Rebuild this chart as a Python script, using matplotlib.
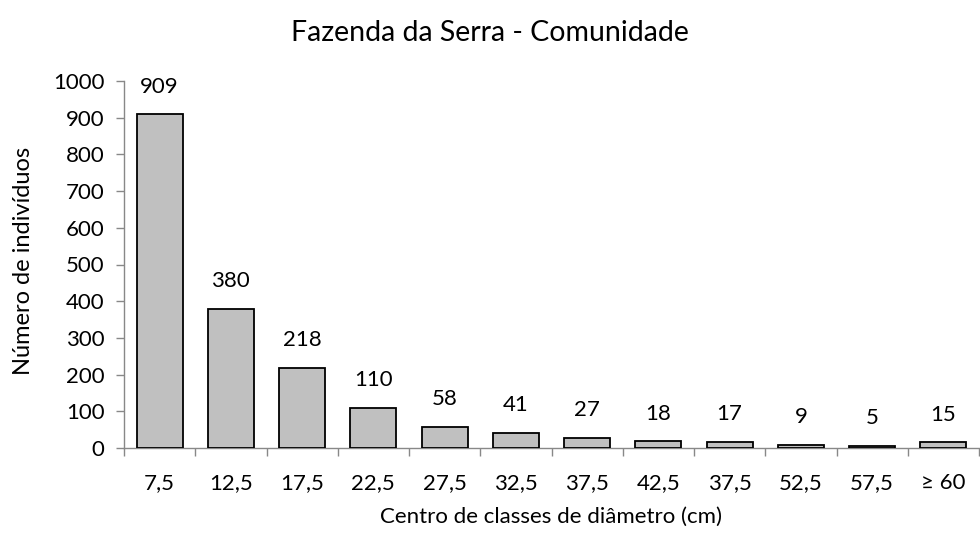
import matplotlib
matplotlib.use("Agg")
import matplotlib.pyplot as plt

categories = ["7,5", "12,5", "17,5", "22,5", "27,5", "32,5", "37,5", "42,5", "37,5", "52,5", "57,5", "≥ 60"]
values = [909, 380, 218, 110, 58, 41, 27, 18, 17, 9, 5, 15]
yticks = [0, 100, 200, 300, 400, 500, 600, 700, 800, 900, 1000]

plt.rcParams['font.family'] = ['Lato', 'DejaVu Sans']
W, H = 980, 536
fig = plt.figure(figsize=(W/100, H/100), dpi=100)
ax = fig.add_axes([124/W, 1-448/H, (979-124)/W, (448-81)/H])

x = list(range(len(categories)))
ax.bar(x, values, width=0.645, color="#c0c0c0", edgecolor="black", linewidth=1.3, zorder=3)
for xi, v in zip(x, values):
    ax.annotate(str(v), (xi, v), xytext=(0, 20), textcoords="offset points",
                ha="center", va="center", fontsize=16)

ax.set_xlim(-0.5, len(categories)-0.5)
ax.set_ylim(0, 1000)
ax.set_yticks(yticks)
ax.set_yticklabels([str(t) for t in yticks], fontsize=16)
ax.set_xticks(x)
ax.set_xticklabels(categories, fontsize=16)
ax.set_xticks([i+0.5 for i in range(-1, len(categories))], minor=True)
ax.tick_params(axis='x', which='major', length=0, pad=18)
ax.tick_params(axis='x', which='minor', length=6, color="#888888", width=1)
ax.tick_params(axis='y', length=6, color="#888888", width=1, pad=8)
for s in ['top', 'right']:
    ax.spines[s].set_visible(False)
for s in ['left', 'bottom']:
    ax.spines[s].set_color("#888888")
    ax.spines[s].set_linewidth(1)

fig.text(490/W, 1-33/H, "Fazenda da Serra - Comunidade", ha="center", va="center", fontsize=20.5)
fig.text(551/W, 1-517/H, "Centro de classes de diâmetro (cm)", ha="center", va="center", fontsize=16)
fig.text(24/W, 1-261/H, "Número de indivíduos", ha="center", va="center", rotation=90, fontsize=17)

fig.savefig("out.png", dpi=100)
